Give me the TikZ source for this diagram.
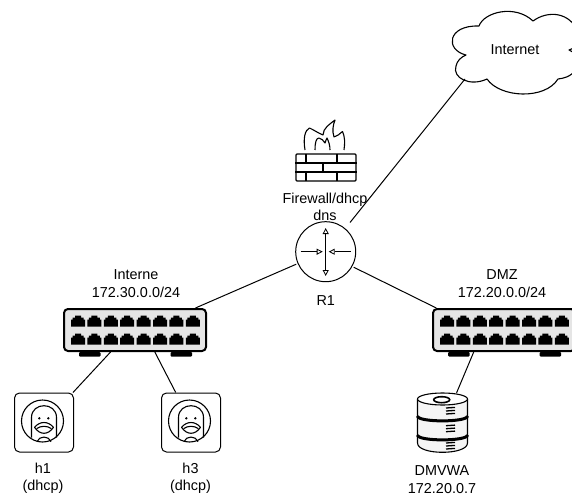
\documentclass[tikz,border=0pt]{standalone}
\usepackage{fontspec}
\setmainfont{Liberation Sans}
\usepackage{tikz}
\usetikzlibrary{arrows.meta,backgrounds}
\usepgflibrary{shapes}
\tikzset{
   lbl/.style={align=center, inner sep=0pt, font=\fontsize{14.4}{17.3}\selectfont},
   link/.style={line width=1pt},
   swbox/.style={draw, fill=black!10, line width=2pt, rounded corners=4pt, minimum width=142pt, minimum height=42pt, inner sep=0pt},
   hostbox/.style={draw, line width=1pt, rounded corners=5pt, minimum size=59pt, inner sep=0pt},
   updown/.style={line width=1pt, -{Triangle[open,length=6pt,width=6pt,line width=0.8pt,fill=white]}},
   thin1/.style={line width=1.1pt, line join=round}
}
\begin{document}
\begin{tikzpicture}[x=1pt,y=-1pt]
      \useasboundingbox (0,0) rectangle (572,497);
      \clip (0,0) rectangle (572,497);
      % cloud
      \draw[thin1] (479,26) .. controls (484,12) and (515,4) .. (533,21)
         .. controls (548,10) and (570,12) .. (578,32)
         .. controls (583,40) and (578,47) .. (569,50)
         .. controls (578,52) and (585,76) .. (558,79)
         .. controls (545,100) and (500,98) .. (487,79)
         .. controls (470,87) and (452,78) .. (456,66)
         .. controls (457,61) and (461,57) .. (466,55)
         .. controls (445,50) and (447,25) .. (479,26) -- cycle;
      \coordinate (cloud1) at (465,79);
      \node[name=inet, lbl] at (515,50){Internet};
      % firewall
      \node[name=fw, draw, line width=1.1pt, rounded corners=1pt, minimum width=60pt, minimum height=27pt, inner sep=0pt] at (326,167.5){};
      \draw[thin1] (fw.west |- 0,163) -- (fw.east |- 0,163);
      \draw[thin1] (fw.west |- 0,172) -- (fw.east |- 0,172);
      \foreach \xa in {306,337}{
         \draw[thin1] (\xa,154) -- (\xa,163);
         \draw[thin1] (\xa,172) -- (\xa,181);
      }
      \draw[thin1] (323,163) -- (323,172);
      \draw[thin1] (305,150) .. controls (303,138) and (305,130) .. (309.5,128)
         .. controls (314,130) and (318,133) .. (323,135)
         .. controls (323,128) and (330,124) .. (335,120)
         .. controls (333,125) and (332,131) .. (334,137)
         .. controls (337,136) and (340,134) .. (342.5,131.5)
         .. controls (345,137) and (345,143) .. (344,150);
      \draw[thin1] (315,150) .. controls (315,143) and (316,138) .. (319,138)
         .. controls (322,138) and (323,141) .. (325,143)
         .. controls (326,141) and (326,139) .. (327,138)
         .. controls (329,142) and (330,146) .. (330,150);
      \node[name=fwtext, lbl] at (325,207){Firewall/dhcp\\dns};
      % router
      \node[name=R1, circle, draw, line width=1pt, minimum size=60pt, inner sep=0pt, outer sep=2pt] at (325.7,251.7){};
      \draw[updown] (R1.center) -- (325.7,228);
      \draw[updown] (R1.center) -- (325.7,276);
      \draw[updown] (300.7,251.7) -- (322.7,251.7);
      \draw[updown] (350.7,251.7) -- (328.7,251.7);
      \node[name=R1text, lbl] at (325.7,301){R1};
      % switches
      \node[name=sw1, swbox] at (135,330){};
      \node[name=sw2, swbox] at (504,330){};
      \foreach \sw in {sw1,sw2}{
         \begin{scope}[shift={(\sw.center)}]
            \fill[rounded corners=1pt] (-56,22) rectangle (-34.5,26.5);
            \fill[rounded corners=1pt] (35.5,22) rectangle (57,26.5);
            \foreach \i in {0,...,7}{
               \foreach \j in {-8.8,9}{
                  \fill[shift={(-57+16.4*\i,\j)}] (-7,5.5) -- (-7,-1.5) -- (-5.5,-1.5) -- (-5.5,-3.5) -- (-3,-3.5) -- (-3,-5.5)
                     -- (3,-5.5) -- (3,-3.5) -- (5.5,-3.5) -- (5.5,-1.5) -- (7,-1.5) -- (7,5.5) -- cycle;
               }
            }
         \end{scope}
      }
      \node[name=sw1text, lbl] at (136,283.5){Interne\\172.30.0.0/24};
      \node[name=sw2text, lbl] at (502,283.5){DMZ\\172.20.0.0/24};
      % hosts
      \node[name=h1, hostbox] at (44,422.5){};
      \node[name=h3, hostbox] at (191,422.5){};
      \foreach \hst in {h1,h3}{
         \begin{scope}[shift={(\hst.center)}]
            \draw[thin1] (-1.5,-1.5) circle (21);
            \draw[thin1] (-12.5,15.2) -- (-12.5,-5) .. controls (-12.5,-13) and (-6,-16.8) .. (0,-16.8)
               .. controls (6,-16.8) and (12.5,-13) .. (12.5,-5) -- (12.5,15.2);
            \fill (-4.7,-4.2) circle (1.3);
            \fill (4.3,-4.2) circle (1.3);
            \draw[thin1] (-9.5,4.8) .. controls (-4,-1.6) and (4,-1.6) .. (9.5,4.8)
               .. controls (4,12.8) and (-4,12.8) .. (-9.5,4.8) -- cycle;
            \draw[thin1] (-7.5,6.2) .. controls (-3,3) and (3,3) .. (7.5,6.2);
            \draw[thin1] (-7,19.2) .. controls (-5,13) and (5,13) .. (7,19.2);
         \end{scope}
      }
      \node[name=h1text, lbl] at (43,478.5){h1\\(dhcp)};
      \node[name=h3text, lbl] at (190.5,478.5){h3\\(dhcp)};
      % server
      \node[name=srv, minimum width=51pt, minimum height=60pt, inner sep=0pt] at (442.5,423){};
      \draw[thin1, fill=black!4] (417.5,399) -- (417.5,443) .. controls (417.5,455.4) and (467.5,455.4) .. (467.5,443) -- (467.5,399) -- cycle;
      \draw[line width=3pt] (417.5,416) .. controls (417.5,422.5) and (467.5,422.5) .. (467.5,416);
      \draw[line width=3pt] (417.5,435) .. controls (417.5,441.5) and (467.5,441.5) .. (467.5,435);
      \draw[thin1, fill=white] (442.5,399) ellipse (25 and 6);
      \draw[line width=1.6pt] (441.7,399.7) ellipse (8 and 3);
      \foreach \ya in {408,425.7,443}{
         \draw[line width=1.3pt] (446,\ya) -- (455,\ya-0.6);
         \draw[line width=1.3pt] (446,\ya+3) -- (455,\ya+2.4);
         \draw[line width=1.3pt] (446,\ya+6) -- (455,\ya+5.4);
      }
      \node[name=srvtext, lbl] at (442,479.5){DMVWA\\172.20.0.7};
      % links
      \draw[link] (R1.203) -- (sw1.20.4);
      \draw[link] (R1.331.7) -- (sw2.162.8);
      \draw[link, shorten <=6pt] (R1.50.7) -- (cloud1);
      \draw[link] (sw1.222.5) -- (h1.46);
      \draw[link] (sw1.312.3) -- (h3.117);
      \draw[link] (sw2.216.3) -- (srv.65.8);
   \end{tikzpicture}
\end{document}
